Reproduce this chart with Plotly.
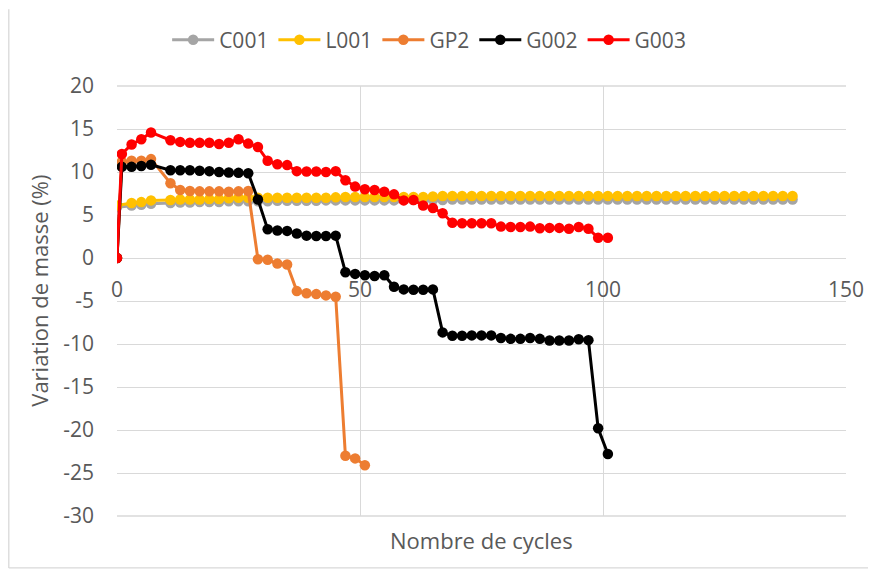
import plotly.graph_objects as go

# ---- data ----
cycles_full = [0, 1, 3, 5, 7, 11, 13, 15, 17, 19, 21, 23, 25, 27, 29, 31, 33, 35, 37, 39,
               41, 43, 45, 47, 49, 51, 53, 55, 57, 59, 61, 63, 65, 67, 69, 71, 73, 75, 77, 79,
               81, 83, 85, 87, 89, 91, 93, 95, 97, 99, 101, 103, 105, 107, 109, 111, 113, 115,
               117, 119, 121, 123, 125, 127, 129, 131, 133, 135, 137, 139]

cycles_ref = [0, 3, 5, 7, 11, 13, 15, 17, 19, 21, 23, 25, 27, 29, 31, 33, 35, 37, 39,
              41, 43, 45, 47, 49, 51, 53, 55, 57, 59, 61, 63, 65, 67, 69, 71, 73, 75, 77, 79,
              81, 83, 85, 87, 89, 91, 93, 95, 97, 99, 101, 103, 105, 107, 109, 111, 113, 115,
              117, 119, 121, 123, 125, 127, 129, 131, 133, 135, 137, 139]

c001 = [5.9, 6.1, 6.2, 6.3, 6.4, 6.45, 6.45, 6.5, 6.5, 6.5, 6.6, 6.6, 6.6, 6.6, 6.6, 6.65, 6.65,
        6.65, 6.65, 6.65, 6.7, 6.7, 6.7, 6.7, 6.7, 6.7, 6.7, 6.7, 6.75, 6.75, 6.75, 6.75, 6.75,
        6.8, 6.8, 6.8, 6.8, 6.8, 6.8, 6.8, 6.8, 6.8, 6.8, 6.8, 6.8, 6.8, 6.8, 6.8, 6.8, 6.8,
        6.8, 6.8, 6.8, 6.8, 6.8, 6.8, 6.8, 6.8, 6.8, 6.8, 6.8, 6.8, 6.8, 6.8, 6.8, 6.8, 6.8,
        6.8, 6.8]

l001 = [6.1, 6.4, 6.5, 6.7, 6.75, 6.8, 6.8, 6.8, 6.85, 6.85, 6.95, 7.0, 7.0, 7.0, 7.0, 7.0, 7.0,
        7.0, 7.0, 7.0, 7.0, 7.05, 7.1, 7.1, 7.1, 7.1, 7.1, 7.1, 7.1, 7.1, 7.1, 7.15, 7.2, 7.2,
        7.2, 7.2, 7.2, 7.2, 7.2, 7.2, 7.2, 7.2, 7.2, 7.2, 7.2, 7.2, 7.2, 7.2, 7.2, 7.2, 7.2,
        7.2, 7.2, 7.2, 7.2, 7.2, 7.2, 7.2, 7.2, 7.2, 7.2, 7.2, 7.2, 7.2, 7.2, 7.2, 7.2, 7.2,
        7.2]

gp2 = [0, 11.2, 11.3, 11.3, 11.5, 8.7, 7.9, 7.8, 7.75, 7.75, 7.75, 7.7, 7.75, 7.8, -0.15, -0.2,
       -0.65, -0.75, -3.85, -4.1, -4.2, -4.35, -4.5, -23.0, -23.3, -24.1]

g002 = [0, 10.6, 10.6, 10.7, 10.85, 10.2, 10.2, 10.2, 10.15, 10.1, 10.0, 9.95, 9.9, 9.85, 6.8,
        3.35, 3.2, 3.15, 2.85, 2.6, 2.55, 2.55, 2.6, -1.65, -1.85, -2.0, -2.1, -2.0, -3.35,
        -3.65, -3.7, -3.7, -3.65, -8.65, -9.05, -9.05, -9.0, -9.0, -9.0, -9.3, -9.4, -9.4,
        -9.3, -9.4, -9.6, -9.6, -9.6, -9.45, -9.55, -19.8, -22.8]

g003 = [0, 12.1, 13.2, 13.8, 14.6, 13.7, 13.5, 13.4, 13.4, 13.4, 13.25, 13.4, 13.8, 13.3, 12.9,
        11.3, 10.9, 10.8, 10.1, 10.05, 10.05, 10.0, 10.1, 9.05, 8.3, 8.0, 7.9, 7.7, 7.4, 6.7,
        6.75, 6.1, 5.8, 5.2, 4.1, 4.05, 4.05, 4.05, 4.05, 3.65, 3.6, 3.6, 3.65, 3.45, 3.5, 3.5,
        3.4, 3.6, 3.4, 2.35, 2.35]

series = [
    ("C001", cycles_ref, c001, "#A5A5A5"),
    ("L001", cycles_ref, l001, "#FFC000"),
    ("GP2", cycles_full[:len(gp2)], gp2, "#ED7D31"),
    ("G002", cycles_full[:len(g002)], g002, "#000000"),
    ("G003", cycles_full[:len(g003)], g003, "#FF0000"),
]

y_ticks = [20, 15, 10, 5, 0, -5, -10, -15, -20, -25, -30]
y_ticktext = ["20", "15", "10", "5", "0", "-5", "-10", "-15", "-20", "-25", "-30"]
x_ticks = [0, 50, 100, 150]

FONT = "Open Sans, Liberation Sans, sans-serif"
TXT = "#595959"
GRID = "#D9D9D9"

fig = go.Figure()
for name, xs, ys, col in series:
    fig.add_trace(go.Scatter(
        x=xs, y=ys, name=name, mode="lines+markers",
        line=dict(color=col, width=3),
        marker=dict(color=col, size=10.5),
    ))

# the page body adds an 8px margin; figure coords = page coords - 8
W, H = 868, 564
L, R, T, B = 109, 28, 77, 56
pw, ph = W - L - R, H - T - B
y_min, y_max = -30, 20
pos0 = (0 - y_min) / (y_max - y_min)


def px(fx):
    return (fx - L) / pw


def py(fy):
    return (H - B - fy) / ph


fig.update_layout(
    width=W, height=H,
    margin=dict(l=L, r=R, t=T, b=B),
    paper_bgcolor="white", plot_bgcolor="white",
    font=dict(family=FONT, color=TXT, size=21),
    showlegend=True,
    legend=dict(orientation="h", x=px(422), xanchor="center",
                y=py(31), yanchor="middle",
                font=dict(size=21, color=TXT), itemwidth=42,
                traceorder="normal"),
    xaxis=dict(range=[0, 150], tickvals=x_ticks, showgrid=True, gridcolor=GRID,
               gridwidth=1.3, zeroline=False, showline=False,
               anchor="free", position=pos0, ticks="", ticklabelstandoff=17,
               tickfont=dict(size=21, color=TXT)),
    yaxis=dict(range=[y_min, y_max], tickvals=y_ticks, ticktext=y_ticktext,
               showgrid=True, gridcolor=GRID, gridwidth=1.3, zeroline=False,
               showline=False, ticks="", ticklabelstandoff=22,
               tickfont=dict(size=21, color=TXT)),
    annotations=[
        dict(text="Nombre de cycles", xref="paper", yref="paper",
             x=px(475), y=py(532), xanchor="center", yanchor="middle",
             showarrow=False, font=dict(size=22, color=TXT)),
        dict(text="Variation de masse (%)", xref="paper", yref="paper",
             x=px(30), y=py(282), xanchor="center", yanchor="middle",
             textangle=-90, showarrow=False, font=dict(size=22, color=TXT)),
    ],
    shapes=[
        dict(type="line", xref="paper", yref="paper", x0=px(866), x1=px(866),
             y0=py(560), y1=py(0), line=dict(color=GRID, width=1.3), layer="below"),
        dict(type="line", xref="paper", yref="paper", x0=px(0.5), x1=px(866),
             y0=py(560), y1=py(560), line=dict(color=GRID, width=1.3), layer="below"),
        dict(type="line", xref="paper", yref="paper", x0=px(0.5), x1=px(0.5),
             y0=py(560), y1=py(0), line=dict(color=GRID, width=1.3), layer="below"),
        dict(type="line", xref="paper", yref="paper", x0=0, x1=1, y0=1, y1=1,
             line=dict(color=GRID, width=1.3), layer="below"),
        dict(type="line", xref="paper", yref="paper", x0=0, x1=1, y0=0, y1=0,
             line=dict(color=GRID, width=1.3), layer="below"),
    ],
)

fig.write_html("out.html")
